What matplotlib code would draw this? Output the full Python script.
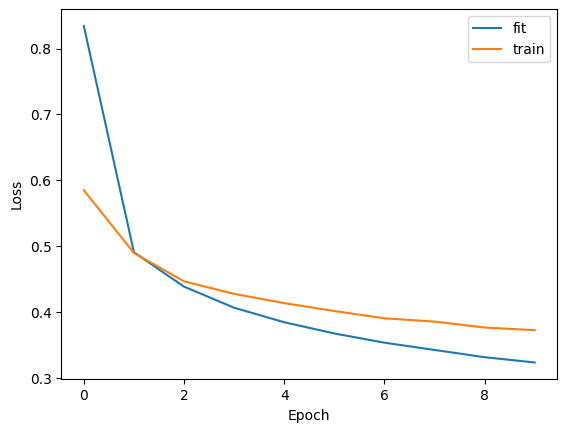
import matplotlib
matplotlib.use('Agg')
import matplotlib.pyplot as plt

epochs = list(range(10))
fit_loss = [0.834, 0.491, 0.439, 0.407, 0.385, 0.368, 0.354, 0.343, 0.332, 0.324]
train_loss = [0.585, 0.490, 0.447, 0.428, 0.414, 0.402, 0.391, 0.386, 0.377, 0.373]

fig = plt.figure(figsize=(5.67, 4.32), dpi=100)
ax = fig.add_axes([61.3 / 567, 1 - 379.3 / 432, 496 / 567, 370 / 432])
ax.plot(epochs, fit_loss, label='fit')
ax.plot(epochs, train_loss, label='train')
ax.set_xlabel('Epoch')
ax.set_ylabel('Loss')
ax.legend()
fig.savefig('out.png', dpi=100)
